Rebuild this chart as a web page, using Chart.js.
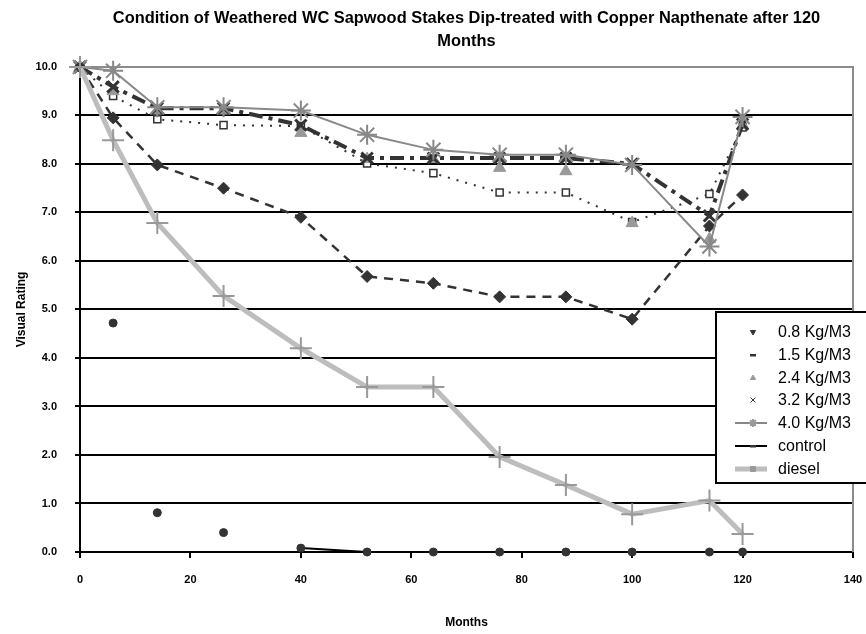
<!DOCTYPE html>
<html>
<head>
<meta charset="utf-8">
<title>Condition of Weathered WC Sapwood Stakes</title>
<script src="https://cdn.jsdelivr.net/npm/chart.js@4/dist/chart.umd.min.js"></script>
<style>
  html, body { margin: 0; padding: 0; background: #fff; }
  #wrap { position: relative; width: 866px; height: 634px; overflow: hidden; }
  #legend {
    position: absolute; left: 715px; top: 311px; width: 170px; height: 169px;
    border: 2px solid #000; background: #fff;
    font: 16px "Liberation Sans", Arial, sans-serif; color: #000;
  }
  .row { position: absolute; left: 0; height: 22px; display: flex; align-items: center; }
  .row canvas { display: block; }
  .row span { margin-left: 11px; white-space: nowrap; }
</style>
</head>
<body>
<div id="wrap">
  <canvas id="chart" width="866" height="634"></canvas>
  <div id="legend"></div>
</div>
<script>
// Data
const months = [0, 6, 14, 26, 40, 52, 64, 76, 88, 100, 114, 120];
const rating08 = [10, 8.95, 7.98, 7.5, 6.9, 5.68, 5.54, 5.26, 5.26, 4.8, 6.72, 7.36];
const rating15 = [10, 9.4, 8.92, 8.8, 8.78, 8.01, 7.81, 7.41, 7.41, 6.8, 7.38, 8.75];
const rating24 = [10, 9.5, 9.1, 9.1, 8.64, 8.1, 8.1, 7.92, 7.85, 6.78, 6.45, 8.8];
const rating32 = [10, 9.59, 9.15, 9.15, 8.8, 8.12, 8.12, 8.12, 8.12, 8.0, 6.93, 8.82];
const rating40 = [10, 9.92, 9.17, 9.17, 9.1, 8.6, 8.29, 8.19, 8.19, 7.98, 6.3, 8.97];
const ratingControl = [10, 4.72, 0.81, 0.4, 0.08, 0, 0, 0, 0, 0, 0, 0];
const ratingDiesel = [10, 8.49, 6.78, 5.28, 4.2, 3.4, 3.4, 1.96, 1.38, 0.78, 1.06, 0.37];
const seriesLabels = ['0.8 Kg/M3', '1.5 Kg/M3', '2.4 Kg/M3', '3.2 Kg/M3', '4.0 Kg/M3', 'control', 'diesel'];
const titleLines = ['Condition of Weathered WC Sapwood Stakes Dip-treated with Copper Napthenate after 120', 'Months'];

const FONT = '"Liberation Sans", Arial, sans-serif';

function toPoints(values) {
  return months.map((m, i) => ({ x: m, y: values[i] }));
}

// gray frame on top and right of the plot area
const plotBorder = {
  id: 'plotBorder',
  beforeDatasetsDraw(chart) {
    const { ctx, chartArea: a } = chart;
    ctx.save();
    ctx.strokeStyle = '#8c8c8c';
    ctx.lineWidth = 2;
    ctx.beginPath();
    ctx.moveTo(a.left, a.top);
    ctx.lineTo(a.right, a.top);
    ctx.lineTo(a.right, a.bottom);
    ctx.stroke();
    ctx.restore();
  }
};

const datasets = [
  {
    label: seriesLabels[0], data: toPoints(rating08), order: 7,
    borderColor: '#333', borderWidth: 2.5, borderDash: [9, 7],
    pointStyle: 'rectRot', pointRadius: 6, pointBackgroundColor: '#333', pointBorderColor: '#333', pointBorderWidth: 1,
    legend: { style: 'triangle', rotation: 180, radius: 3, fill: '#333', line: null }
  },
  {
    label: seriesLabels[1], data: toPoints(rating15), order: 6,
    borderColor: '#333', borderWidth: 2, borderDash: [2, 7],
    pointStyle: 'rect', pointRadius: 5, pointBackgroundColor: '#fff', pointBorderColor: '#333', pointBorderWidth: 1.5,
    legend: { style: 'line', radius: 3, fill: '#333', line: null }
  },
  {
    label: seriesLabels[2], data: toPoints(rating24), order: 5, showLine: false,
    borderColor: '#999',
    pointStyle: 'triangle', pointRadius: 7, pointBackgroundColor: '#999', pointBorderColor: '#999', pointBorderWidth: 1,
    legend: { style: 'triangle', radius: 3, fill: '#999', line: null }
  },
  {
    label: seriesLabels[3], data: toPoints(rating32), order: 4,
    borderColor: '#333', borderWidth: 4, borderDash: [14, 6, 4, 6],
    pointStyle: 'crossRot', pointRadius: 8, pointBackgroundColor: '#333', pointBorderColor: '#333', pointBorderWidth: 3,
    legend: { style: 'crossRot', radius: 3.5, fill: '#333', line: null }
  },
  {
    label: seriesLabels[4], data: toPoints(rating40), order: 3,
    borderColor: '#888', borderWidth: 2,
    pointStyle: 'star', pointRadius: 10, pointBackgroundColor: '#888', pointBorderColor: '#888', pointBorderWidth: 2,
    legend: { style: 'star', radius: 4, fill: '#999', line: { color: '#888', width: 2 } }
  },
  {
    label: seriesLabels[5], data: toPoints(ratingControl), order: 2,
    borderColor: '#000', borderWidth: 2,
    segment: { borderColor: c => (c.p0.parsed.x < 40 ? 'rgba(0,0,0,0)' : '#000') },
    pointStyle: 'circle', pointRadius: 4, pointBackgroundColor: '#333', pointBorderColor: '#333', pointBorderWidth: 1,
    legend: { style: 'line', radius: 3, fill: '#333', line: { color: '#000', width: 2 } }
  },
  {
    label: seriesLabels[6], data: toPoints(ratingDiesel), order: 1,
    borderColor: '#bdbdbd', borderWidth: 5,
    pointStyle: 'cross', pointRadius: 11, pointBackgroundColor: '#999', pointBorderColor: '#999', pointBorderWidth: 2,
    legend: { style: 'cross', radius: 3, fill: '#999', line: { color: '#bdbdbd', width: 5 } }
  }
];
datasets.forEach(d => { d.clip = false; d.fill = false; d.tension = 0; });

new Chart(document.getElementById('chart'), {
  type: 'line',
  data: { datasets: datasets },
  options: {
    responsive: false,
    animation: false,
    devicePixelRatio: 1,
    layout: { padding: { left: 0, right: 13, top: 0, bottom: 0 } },
    plugins: {
      legend: { display: false },
      tooltip: { enabled: false },
      title: {
        display: true,
        fullSize: false,
        text: titleLines,
        color: '#000',
        font: { family: FONT, size: 16.4, weight: 'bold', lineHeight: 1.4 },
        padding: { top: 7, bottom: 14 }
      }
    },
    scales: {
      x: {
        type: 'linear', min: 0, max: 140,
        ticks: { stepSize: 20, color: '#000', font: { family: FONT, size: 11, weight: 'bold' }, padding: 15, maxRotation: 0 },
        grid: { drawOnChartArea: false, drawTicks: true, tickLength: 6, color: '#000', lineWidth: 2 },
        border: { color: '#000', width: 2 },
        title: { display: true, text: 'Months', color: '#000', font: { family: FONT, size: 12, weight: 'bold' }, padding: { top: 0, bottom: 4 } },
        afterFit: s => { s.height = 82; s.paddingRight = 0; s.paddingLeft = 0; }
      },
      y: {
        min: 0, max: 10,
        ticks: { stepSize: 1, color: '#000', font: { family: FONT, size: 11, weight: 'bold' }, padding: 18, callback: v => v.toFixed(1) },
        grid: { color: c => (c.tick && c.tick.value === 10 ? '#8c8c8c' : '#000'), lineWidth: 2, drawTicks: true, tickLength: 5 },
        border: { color: '#000', width: 2 },
        title: { display: true, text: 'Visual Rating', color: '#000', font: { family: FONT, size: 12, weight: 'bold' }, padding: { top: 14, bottom: 0 } },
        afterFit: s => { s.width = 80; }
      }
    }
  },
  plugins: [plotBorder]
});

// Legend box laid over the plot area, as in the original
function buildLegend() {
  const box = document.getElementById('legend');
  datasets.forEach((d, i) => {
    const row = document.createElement('div');
    row.className = 'row';
    row.style.top = (8 + i * 22.8) + 'px';
    const c = document.createElement('canvas');
    c.width = 50; c.height = 22;
    const ctx = c.getContext('2d');
    const lg = d.legend;
    if (lg.line) {
      ctx.strokeStyle = lg.line.color;
      ctx.lineWidth = lg.line.width;
      ctx.beginPath();
      ctx.moveTo(18, 11);
      ctx.lineTo(50, 11);
      ctx.stroke();
    }
    ctx.fillStyle = lg.fill;
    ctx.strokeStyle = lg.fill;
    if (lg.style === 'line') {
      ctx.fillRect(36 - 3, 10, 6, 2.5);
    } else {
      Chart.helpers.drawPoint(ctx, { pointStyle: lg.style, radius: lg.radius, rotation: lg.rotation || 0, borderWidth: 2 }, 36, 11);
    }
    row.appendChild(c);
    const t = document.createElement('span');
    t.textContent = d.label;
    row.appendChild(t);
    box.appendChild(row);
  });
}
buildLegend();
</script>
</body>
</html>
